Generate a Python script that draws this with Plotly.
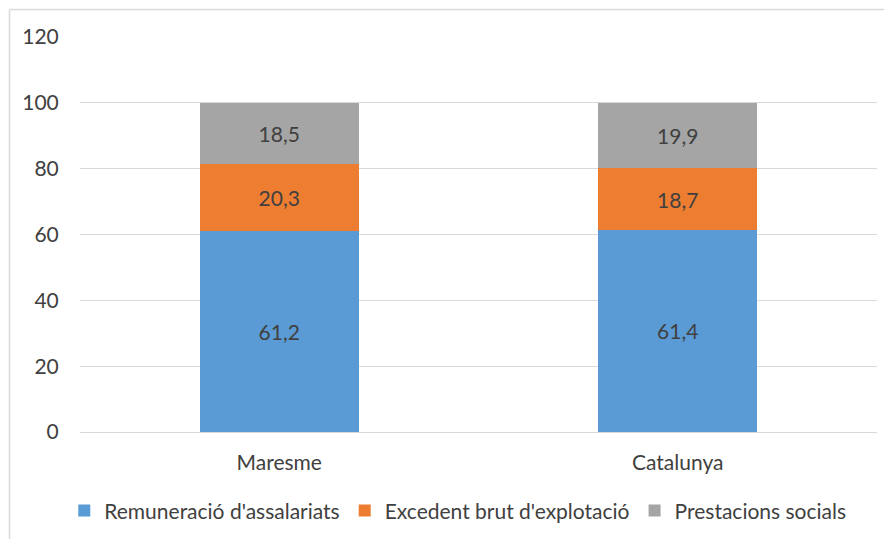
import plotly.graph_objects as go

categories = ["Maresme", "Catalunya"]
remuneracio = [61.2, 61.4]
excedent = [20.3, 18.7]
prestacions = [18.5, 19.9]
series_names = ["Remuneració d'assalariats", "Excedent brut d'explotació", "Prestacions socials"]
colors = ["#5B9BD5", "#ED7D31", "#A5A5A5"]
tick_vals = [0, 20, 40, 60, 80, 100, 120]

# page has an 8px body margin, so the figure is placed at (8, 8)
W, H = 884, 531
ml, mr, mt, mb = 72, 15, 29, 107
FONT = "Lato, 'Open Sans', sans-serif"
FS = 21
TXT = "#404040"

fig = go.Figure()
for name, vals, col in zip(series_names, [remuneracio, excedent, prestacions], colors):
    fig.add_trace(go.Bar(
        x=categories, y=vals, name=name, marker=dict(color=col, line=dict(width=0)),
        text=[f"{v:.1f}".replace(".", ",") for v in vals],
        textposition="inside", insidetextanchor="middle",
        textfont=dict(family=FONT, size=FS, color=TXT),
    ))

pw = W - ml - mr
ph = H - mt - mb
bx = (1.5 - ml) / pw
by = (H - mb - 1.5) / ph
fig.add_shape(type="line", xref="paper", yref="paper", x0=bx, x1=(W - ml + 5) / pw, y0=by, y1=by,
              line=dict(color="#D9D9D9", width=1.5))
fig.add_shape(type="line", xref="paper", yref="paper", x0=bx, x1=bx, y0=by, y1=-(mb + 5) / ph,
              line=dict(color="#D9D9D9", width=1.5))

fig.update_layout(
    width=W, height=H, barmode="stack", bargap=0.6,
    margin=dict(l=ml, r=mr, t=mt, b=mb, autoexpand=False),
    paper_bgcolor="white", plot_bgcolor="white",
    font=dict(family=FONT, size=FS, color=TXT),
    xaxis=dict(showgrid=False, showline=False, ticks="outside", ticklen=12, tickcolor="rgba(0,0,0,0)",
               tickfont=dict(size=FS, color=TXT)),
    yaxis=dict(range=[0, 120], tickvals=tick_vals, showgrid=True, gridcolor="#D9D9D9", gridwidth=1,
               zeroline=True, zerolinecolor="#D9D9D9", zerolinewidth=1, showline=False,
               ticks="outside", ticklen=16, tickcolor="rgba(0,0,0,0)", tickfont=dict(size=FS, color=TXT)),
    legend=dict(orientation="h", x=0.474, xanchor="center", y=0.053, yref="container", yanchor="middle",
                font=dict(size=FS, color=TXT), traceorder="normal", itemwidth=30),
)

fig.write_html("out.html")
